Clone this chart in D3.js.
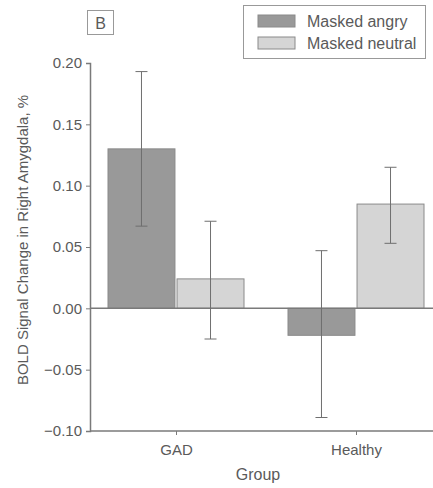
<!DOCTYPE html>
<html>
<head>
<meta charset="utf-8">
<script src="https://cdn.jsdelivr.net/npm/d3@7"></script>
<style>
  body { margin: 0; background: #fff; }
  svg { display: block; font-family: "Liberation Sans Narrow", "Arial Narrow", "Liberation Sans", sans-serif; }
</style>
</head>
<body>
<div id="chart"></div>
<script>
// data
const groups = ["GAD", "Healthy"];
const series = ["Masked angry", "Masked neutral"];
const means = [[0.130, 0.024], [-0.022, 0.085]];
const errLow = [[0.067, -0.025], [-0.089, 0.053]];
const errHigh = [[0.193, 0.071], [0.047, 0.115]];
const yTicks = [-0.10, -0.05, 0.00, 0.05, 0.10, 0.15, 0.20];

const width = 433, height = 488;
const colors = {"Masked angry": "#999999", "Masked neutral": "#d5d5d5"};
const strokeCol = "#7a7a7a";
const textCol = "#5a5a5a";

const svg = d3.select("#chart").append("svg")
  .attr("width", width).attr("height", height);

// y Axis
const y = d3.scaleLinear().domain([-0.10, 0.20]).range([431, 63]);
const yAxis = d3.axisLeft(y).tickValues(yTicks).tickSize(4).tickPadding(4)
  .tickFormat(function(d){ return d3.format(".2f")(d).replace("-", "\u2212"); });
const gy = svg.append("g")
  .attr("class", "axis y")
  .attr("transform", "translate(90,0)")
  .call(yAxis);

// x Axis
const x = d3.scalePoint().domain(groups).range([86, 446]).padding(0.5);
const sub = d3.scaleBand().domain(series).range([-68, 68]).paddingInner(0.03);
const xAxis = d3.axisBottom(x).tickSize(4).tickPadding(9).tickSizeOuter(0);
const gx = svg.append("g")
  .attr("class", "axis x")
  .attr("transform", "translate(0,431)")
  .call(xAxis);
gx.select(".domain").attr("d", "M90,0H433");

svg.selectAll(".axis .domain").attr("stroke", strokeCol).attr("stroke-width", 1.5);
svg.selectAll(".axis .tick line").attr("stroke", strokeCol);
svg.selectAll(".axis text").attr("fill", textCol).style("font-size", "15px");

// bars
const rows = [];
groups.forEach(function(g, i){
  series.forEach(function(s, j){
    rows.push({group: g, series: s, value: means[i][j], lo: errLow[i][j], hi: errHigh[i][j]});
  });
});

svg.selectAll(".bar")
  .data(rows)
  .join("rect")
    .attr("class", "bar")
    .attr("x", function(d){ return x(d.group) + sub(d.series); })
    .attr("width", sub.bandwidth())
    .attr("y", function(d){ return y(Math.max(0, d.value)); })
    .attr("height", function(d){ return Math.abs(y(d.value) - y(0)); })
    .attr("fill", function(d){ return colors[d.series]; })
    .attr("stroke", "#8a8a8a")
    .attr("stroke-width", 1);

// zero line
svg.append("line")
  .attr("x1", 90).attr("x2", 433)
  .attr("y1", y(0)).attr("y2", y(0))
  .attr("stroke", strokeCol).attr("stroke-width", 1.5);

// error bars
const eb = svg.selectAll(".err").data(rows).join("g").attr("class", "err")
  .attr("transform", function(d){ return "translate(" + (x(d.group) + sub(d.series) + sub.bandwidth() / 2) + ",0)"; });
eb.append("line")
  .attr("y1", function(d){ return y(d.lo); })
  .attr("y2", function(d){ return y(d.hi); })
  .attr("stroke", "#6f6f6f").attr("stroke-width", 1);
eb.selectAll(".cap")
  .data(function(d){ return [d.lo, d.hi]; })
  .join("line")
    .attr("class", "cap")
    .attr("x1", -6).attr("x2", 6)
    .attr("y1", function(v){ return y(v); })
    .attr("y2", function(v){ return y(v); })
    .attr("stroke", "#6f6f6f").attr("stroke-width", 1);

// axis titles
svg.append("text")
  .attr("x", 258).attr("y", 480)
  .attr("text-anchor", "middle")
  .attr("fill", textCol)
  .style("font-size", "16px")
  .text("Group");

svg.append("text")
  .attr("transform", "translate(28,240) rotate(-90)")
  .attr("text-anchor", "middle")
  .attr("fill", textCol)
  .style("font-size", "15px")
  .text("BOLD Signal Change in Right Amygdala, %");

// panel label
svg.append("rect")
  .attr("x", 87.5).attr("y", 10.5).attr("width", 26).attr("height", 24)
  .attr("fill", "#fff").attr("stroke", "#999");
svg.append("text")
  .attr("x", 100.5).attr("y", 28.5)
  .attr("text-anchor", "middle")
  .attr("fill", textCol)
  .style("font-size", "16px")
  .text("B");

// legend
const legend = svg.append("g").attr("transform", "translate(243,5)");
legend.append("rect")
  .attr("x", 0.5).attr("y", 0.5).attr("width", 182).attr("height", 53)
  .attr("fill", "#fff").attr("stroke", "#999");
const li = legend.selectAll(".li").data(series).join("g").attr("class", "li")
  .attr("transform", function(d, i){ return "translate(15," + (10 + i * 22) + ")"; });
li.append("rect")
  .attr("width", 37).attr("height", 12)
  .attr("fill", function(d){ return colors[d]; })
  .attr("stroke", "#8a8a8a");
li.append("text")
  .attr("x", 49).attr("y", 12)
  .attr("fill", textCol)
  .style("font-size", "16px")
  .text(function(d){ return d; });
</script>
</body>
</html>
